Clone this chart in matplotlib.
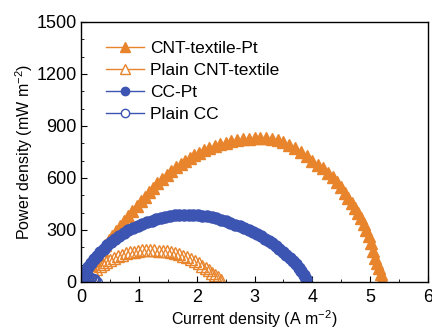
import matplotlib
matplotlib.use('Agg')
import matplotlib.pyplot as plt
from matplotlib.lines import Line2D
from matplotlib.ticker import MultipleLocator

plt.rcParams['font.family'] = ['Liberation Sans', 'DejaVu Sans']
plt.rcParams['mathtext.default'] = 'regular'

# CNT-textile-Pt
i_cnt_pt = [0, 0.06, 0.12, 0.18, 0.24, 0.30, 0.36, 0.42, 0.48, 0.54, 0.61, 0.68, 0.75, 0.82,
            0.89, 0.96, 1.03, 1.10, 1.17, 1.24, 1.32, 1.40, 1.48, 1.56, 1.64, 1.72, 1.80, 1.88,
            1.96, 2.04, 2.13, 2.22, 2.31, 2.40, 2.50, 2.60, 2.70, 2.80, 2.90, 3.00, 3.10, 3.20,
            3.30, 3.40, 3.50, 3.60, 3.70, 3.80, 3.90, 4.00, 4.09, 4.18, 4.27, 4.35, 4.43, 4.50,
            4.56, 4.62, 4.68, 4.74, 4.79, 4.84, 4.89, 4.93, 4.97, 5.01, 5.05, 5.09, 5.12, 5.15,
            5.18, 5.21]
p_cnt_pt = [0, 33, 65, 96, 127, 156, 184, 212, 239, 265, 295, 325, 354, 382,
            410, 438, 465, 492, 518, 544, 569, 593, 616, 638, 660, 679, 697, 714,
            730, 746, 760, 773, 785, 795, 804, 811, 817, 822, 826, 829, 830, 829,
            825, 818, 808, 792, 772, 750, 726, 700, 676, 655, 631, 605, 575, 545,
            515, 485, 454, 426, 400, 368, 333, 300, 262, 222, 180, 140, 108, 78,
            48, 18]

# Plain CNT-textile
i_cnt = [0, 0.05, 0.10, 0.15, 0.20, 0.26, 0.32, 0.38, 0.44, 0.50, 0.57, 0.64, 0.71, 0.78,
         0.85, 0.92, 0.99, 1.06, 1.13, 1.20, 1.27, 1.34, 1.41, 1.48, 1.55, 1.62, 1.69, 1.76,
         1.83, 1.90, 1.97, 2.04, 2.10, 2.16, 2.22, 2.27, 2.32, 2.37, 2.42]
p_cnt = [0, 17, 33, 48, 62, 77, 91, 104, 116, 127, 138, 148, 157, 164,
         170, 175, 179, 181, 183, 183, 182, 180, 178, 176, 172, 167, 160, 152,
         144, 134, 121, 106, 93, 80, 66, 54, 40, 26, 10]

# CC-Pt
i_cc_pt = [0, 0.04, 0.08, 0.12, 0.17, 0.22, 0.27, 0.33, 0.39, 0.45, 0.52, 0.59, 0.66, 0.74,
           0.82, 0.90, 0.98, 1.06, 1.14, 1.22, 1.30, 1.38, 1.46, 1.54, 1.62, 1.70, 1.78, 1.86,
           1.94, 2.02, 2.10, 2.18, 2.26, 2.34, 2.42, 2.50, 2.58, 2.66, 2.74, 2.82, 2.90, 2.97,
           3.04, 3.11, 3.18, 3.25, 3.31, 3.37, 3.43, 3.49, 3.55, 3.61, 3.66, 3.71, 3.76, 3.81,
           3.85, 3.89]
p_cc_pt = [0, 32, 60, 85, 110, 132, 152, 173, 192, 210, 230, 248, 264, 281,
           297, 311, 323, 334, 344, 353, 361, 368, 374, 379, 383, 386, 388, 388,
           387, 385, 382, 378, 373, 366, 358, 350, 341, 331, 321, 311, 300, 289,
           277, 264, 250, 236, 222, 207, 191, 174, 155, 137, 120, 102, 82, 60,
           40, 18]

# Plain CC
i_cc = [0, 0.025, 0.05, 0.075, 0.10, 0.125, 0.15, 0.175, 0.20, 0.225, 0.25, 0.27]
p_cc = [0, 7, 13, 17, 20, 22, 22, 21, 18, 14, 8, 2]

orange = '#E8842C'
blue = '#3C54B2'

fig = plt.figure(figsize=(4.32, 3.32), dpi=100)
ax = fig.add_axes([0.1875, 0.151, 0.8035, 0.783])

ax.plot(i_cnt_pt, p_cnt_pt, ls='none', marker='^', ms=8.5, color=orange, mec=orange)
ax.plot(i_cnt, p_cnt, ls='none', marker='^', ms=8.5, mfc='none', mec=orange, mew=1.0)
ax.plot(i_cc_pt, p_cc_pt, ls='none', marker='o', ms=8, color=blue, mec=blue)
ax.plot(i_cc, p_cc, ls='none', marker='o', ms=7, mfc='none', mec=blue, mew=1.0)

ax.set_xlim(0, 6)
ax.set_ylim(0, 1500)
ax.xaxis.set_major_locator(MultipleLocator(1))
ax.xaxis.set_minor_locator(MultipleLocator(0.5))
ax.yaxis.set_major_locator(MultipleLocator(300))
ax.yaxis.set_minor_locator(MultipleLocator(100))
ax.tick_params(which='both', direction='in', top=False, right=False, labelsize=13)
ax.tick_params(axis='x', pad=5)
ax.tick_params(axis='y', pad=3)
ax.tick_params(which='major', length=4)
ax.tick_params(which='minor', length=2.5)
for s in ax.spines.values():
    s.set_linewidth(1.0)

ax.set_xlabel('Current density (A m$^{-2}$)', fontsize=11.5, labelpad=2)
ax.set_ylabel('Power density (mW m$^{-2}$)', fontsize=11.5, labelpad=1)

handles = [
    Line2D([], [], color=orange, marker='^', ms=6.5, lw=1.0),
    Line2D([], [], color=orange, marker='^', ms=6.5, mfc='white', lw=1.0),
    Line2D([], [], color=blue, marker='o', ms=6, lw=1.0),
    Line2D([], [], color=blue, marker='o', ms=6, mfc='white', lw=1.0),
]
labels = ['CNT-textile-Pt', 'Plain CNT-textile', 'CC-Pt', 'Plain CC']
ax.legend(handles, labels, loc='upper left', frameon=False, fontsize=12.5,
          handlelength=2.2, handletextpad=0.35, labelspacing=0.4,
          borderaxespad=0.3, bbox_to_anchor=(0.037, 0.975))

fig.savefig('out.png', dpi=100)
